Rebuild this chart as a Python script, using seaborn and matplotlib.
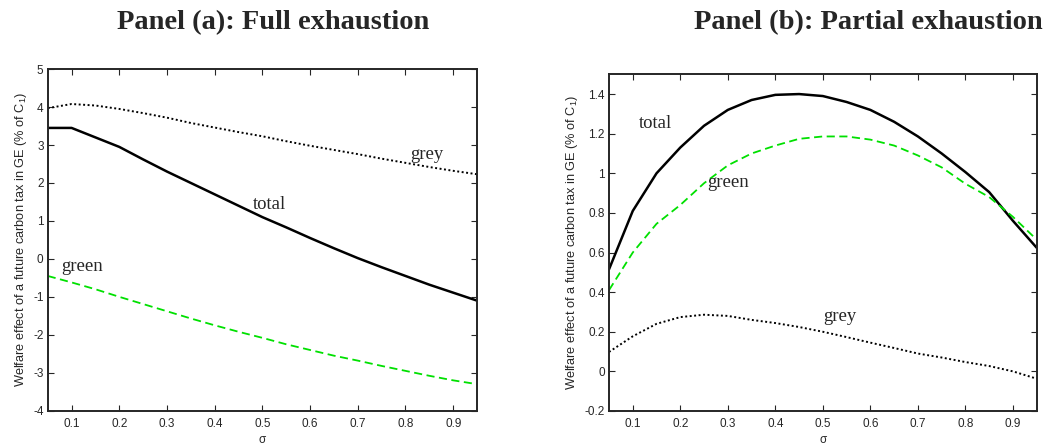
import numpy as np
import pandas as pd
import matplotlib
matplotlib.use("Agg")
import matplotlib.pyplot as plt
import seaborn as sns
from matplotlib.ticker import FormatStrFormatter

sns.set_style('ticks')
plt.rcParams['font.family'] = ['Liberation Sans', 'DejaVu Sans']
plt.rcParams['axes.unicode_minus'] = False

# sigma grid shared by both panels
sigma = [0.05, 0.10, 0.15, 0.20, 0.25, 0.30, 0.35, 0.40, 0.45, 0.50,
         0.55, 0.60, 0.65, 0.70, 0.75, 0.80, 0.85, 0.90, 0.95]

# Panel (a): full exhaustion
a_total = [3.45, 3.45, 3.20, 2.95, 2.62, 2.30, 2.00, 1.70, 1.40, 1.10,
           0.83, 0.55, 0.28, 0.02, -0.22, -0.45, -0.68, -0.89, -1.10]
a_grey = [3.97, 4.08, 4.04, 3.95, 3.84, 3.72, 3.58, 3.46, 3.34, 3.23,
          3.10, 2.98, 2.87, 2.76, 2.64, 2.53, 2.42, 2.32, 2.23]
a_green = [-0.45, -0.62, -0.80, -1.00, -1.19, -1.38, -1.57, -1.75, -1.92, -2.08,
           -2.25, -2.40, -2.55, -2.68, -2.82, -2.95, -3.08, -3.20, -3.30]

# Panel (b): partial exhaustion
b_total = [0.515, 0.81, 1.00, 1.13, 1.24, 1.32, 1.37, 1.396, 1.40, 1.39,
           1.36, 1.32, 1.26, 1.186, 1.10, 1.006, 0.905, 0.76, 0.624]
b_green = [0.41, 0.60, 0.745, 0.84, 0.95, 1.04, 1.10, 1.14, 1.174, 1.186,
           1.186, 1.17, 1.14, 1.09, 1.03, 0.947, 0.88, 0.78, 0.665]
b_grey = [0.098, 0.177, 0.24, 0.274, 0.286, 0.28, 0.26, 0.244, 0.224, 0.20,
          0.173, 0.145, 0.118, 0.09, 0.07, 0.047, 0.027, 0.0, -0.037]

ylabel = "Welfare effect of a future carbon tax in GE (% of C$_\\mathregular{1}$)"

fig = plt.figure(figsize=(10.54, 4.46), dpi=100)
ax_a = fig.add_axes([0.0453, 0.0791, 0.4073, 0.766])
ax_b = fig.add_axes([0.5778, 0.0785, 0.4058, 0.755])


def draw_panel(ax, total, green, grey, ylim, yticks, labels):
    sns.lineplot(x=sigma, y=total, ax=ax, color='black', lw=1.8)
    sns.lineplot(x=sigma, y=green, ax=ax, color='#00e000', lw=1.3,
                 linestyle=(0, (4.5, 2.5)))
    sns.lineplot(x=sigma, y=grey, ax=ax, color='black', lw=1.4,
                 linestyle=(0, (1, 1.3)))
    ax.set_xlim(0.05, 0.95)
    ax.set_ylim(*ylim)
    ax.set_xticks([0.1, 0.2, 0.3, 0.4, 0.5, 0.6, 0.7, 0.8, 0.9])
    ax.set_yticks(yticks)
    ax.xaxis.set_major_formatter(FormatStrFormatter('%g'))
    ax.yaxis.set_major_formatter(FormatStrFormatter('%g'))
    ax.tick_params(direction='in', top=True, right=True, length=4.5, width=0.8,
                   labelsize=8.5, pad=3)
    ax.tick_params(axis='x', pad=5)
    for s in ax.spines.values():
        s.set_linewidth(1.4)
    ax.set_xlabel("σ", fontsize=8.5, labelpad=3)
    ax.set_ylabel(ylabel, fontsize=9.2, labelpad=3)
    for txt, x, y in labels:
        ax.text(x, y, txt, fontsize=13.5, family='Liberation Serif', va='center', ha='left')


draw_panel(ax_a, a_total, a_green, a_grey, (-4, 5), list(range(-4, 6)),
           [("grey", 0.81, 2.76), ("total", 0.481, 1.44), ("green", 0.079, -0.19)])
draw_panel(ax_b, b_total, b_green, b_grey, (-0.2, 1.5),
           [-0.2, 0, 0.2, 0.4, 0.6, 0.8, 1.0, 1.2, 1.4],
           [("total", 0.113, 1.253), ("green", 0.257, 0.955), ("grey", 0.501, 0.278)])

fig.text(0.259, 0.935, "Panel (a): Full exhaustion", ha='center', va='baseline',
         fontsize=20.5, fontweight='bold', family='Liberation Serif')
fig.text(0.8235, 0.935, "Panel (b): Partial exhaustion", ha='center', va='baseline',
         fontsize=20.5, fontweight='bold', family='Liberation Serif')

plt.savefig("out.png", dpi=100)
